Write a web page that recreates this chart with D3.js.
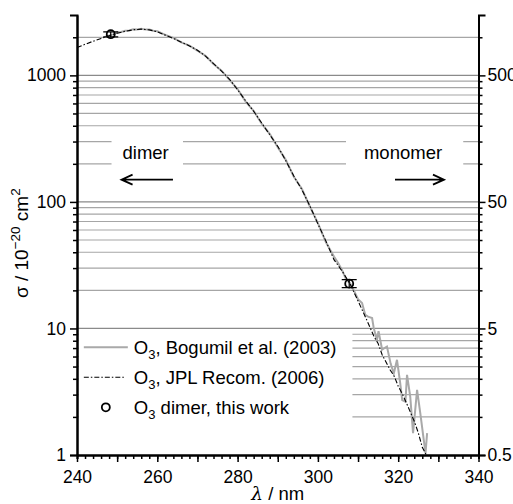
<!DOCTYPE html>
<html>
<head>
<meta charset="utf-8">
<script src="https://cdn.jsdelivr.net/npm/d3@7"></script>
<style>
  body { margin: 0; background: #fff; }
  text { font-family: "Liberation Sans", Arial, sans-serif; fill: #000; }
</style>
</head>
<body>
<script>
const width = 513
const height = 504
const margin = { top: 15, right: 35, bottom: 49, left: 77 }

// JPL recommendation (2006), wavelength in nm, sigma in 1e-20 cm2
const jplLambda = [240, 242, 244, 246, 248, 250, 252, 254, 256, 258, 260, 262, 264, 266, 268, 270,
  272, 274, 276, 278, 280, 282, 284, 286, 288, 290, 292, 294, 296, 298, 300, 302, 304, 306, 308,
  310, 312, 314, 315, 316, 318, 319, 320, 321, 322, 324, 325, 326, 327]
const jplSigma = [1660, 1760, 1860, 1960, 2060, 2150, 2230, 2290, 2320, 2290, 2210, 2080, 1960, 1830, 1710, 1580,
  1420, 1240, 1080, 930, 770, 630, 520, 420, 340, 275, 212, 160, 125, 93, 67, 49, 35, 28.5, 22.5,
  16.5, 12, 8.6, 7.6, 6.2, 4.7, 4.2, 3.5, 3.05, 2.6, 1.85, 1.5, 1.15, 1.0]

// Bogumil et al. (2003)
const bogLambda = [247, 249, 250, 251, 252, 253, 254, 255, 256, 257, 258, 259, 260, 262, 264, 266, 268, 270,
  272, 274, 276, 278, 280, 282, 284, 286, 288, 290, 292, 294, 296, 298, 300, 302, 304, 305, 306, 307, 308, 309,
  310, 311, 311.8, 312.5, 313.5, 313.9, 314.7, 315.1, 316, 317.2, 318.1, 318.9, 319.7, 320.5, 321, 321.8,
  322.2, 323, 323.7, 324.7, 325.5, 326.8, 327.2]
const bogSigma = [2020, 2110, 2180, 2200, 2250, 2260, 2310, 2300, 2340, 2300, 2300, 2250, 2230, 2090, 1980, 1820, 1720, 1570,
  1430, 1230, 1090, 920, 780, 620, 525, 415, 345, 270, 215, 158, 127, 92, 68, 48, 37, 33, 29, 24.5, 22.8, 19.8,
  17, 15.9, 12.8, 12.4, 12.1, 10.1, 8.1, 9.5, 6.8, 7.2, 5.3, 4.4, 5.65, 3.7, 2.72, 2.64,
  4.3, 2.9, 1.49, 3.27, 2.14, 1.03, 1.49]

// O3 dimer, this work
const dimerLambda = [248.4, 307.8]
const dimerSigma = [2116, 22.6]
const dimerLow = [2014, 21.0]
const dimerHigh = [2207, 24.3]

const xTicks = [240, 260, 280, 300, 320, 340]
const yTicks = [1, 10, 100, 1000]
const gridValues = [2000, 1000, 900, 800, 700, 600, 500, 400, 300, 200,
  100, 90, 80, 70, 60, 50, 40, 30, 20,
  10, 9, 8, 7, 6, 5, 4, 3, 2]

const svg = d3.select('body')
  .append('svg')
  .attr('width', width)
  .attr('height', height)

const x = d3.scaleLinear().domain([240, 340]).range([margin.left, width - margin.right + 0.5])
const y = d3.scaleLog().domain([1, 3000]).range([height - margin.bottom, margin.top])

// gridlines
svg.append('g')
  .selectAll('line')
  .data(gridValues)
  .enter()
  .append('line')
  .attr('x1', x(240))
  .attr('x2', x(340))
  .attr('y1', (d) => y(d))
  .attr('y2', (d) => y(d))
  .attr('stroke', (d) => yTicks.includes(d) ? '#8a8a8a' : '#a6a6a6')
  .attr('stroke-width', 1.2)

// white boxes behind the annotations and legend
const blank = (x1, x2, y1, y2) => svg.append('rect')
  .attr('x', x(x1)).attr('width', x(x2) - x(x1))
  .attr('y', y(y1)).attr('height', y(y2) - y(y1))
  .attr('fill', '#fff')
blank(248.6, 266.4, 360, 180)
blank(307.0, 336.2, 360, 180)
blank(240.4, 308.6, 9.6, 1.02)

// dimer / monomer annotations
const note = (label, cx, a1, a2) => {
  svg.append('text')
    .attr('x', x(cx)).attr('y', y(218))
    .attr('text-anchor', 'middle')
    .style('font-size', '18.5px')
    .text(label)
  const ay = y(150)
  const dir = a2 > a1 ? -1 : 1
  svg.append('path')
    .attr('d', `M${x(a1)},${ay}L${x(a2)},${ay}M${x(a2) + dir * 11},${ay - 5}L${x(a2)},${ay}L${x(a2) + dir * 11},${ay + 5}`)
    .attr('fill', 'none')
    .attr('stroke', '#000')
    .attr('stroke-width', 1.8)
}
note('dimer', 257.1, 263.9, 251.1)
note('monomer', 321.2, 319.2, 331.4)

// curves
const line = d3.line()
  .x((d) => x(d[0]))
  .y((d) => y(d[1]))

svg.append('path')
  .datum(bogLambda.map((l, i) => [l, bogSigma[i]]))
  .attr('d', line)
  .attr('fill', 'none')
  .attr('stroke', '#a9a9a9')
  .attr('stroke-width', 2)

svg.append('path')
  .datum(jplLambda.map((l, i) => [l, jplSigma[i]]))
  .attr('d', line)
  .attr('fill', 'none')
  .attr('stroke', '#000')
  .attr('stroke-width', 1.1)
  .attr('stroke-dasharray', '5,2,1.5,2')

// dimer points with error bars
const pts = svg.append('g')
  .selectAll('g')
  .data(dimerLambda.map((l, i) => ({ l: l, s: dimerSigma[i], lo: dimerLow[i], hi: dimerHigh[i] })))
  .enter()
  .append('g')
pts.append('path')
  .attr('d', (d) => `M${x(d.l)},${y(d.lo)}L${x(d.l)},${y(d.hi)}` +
    `M${x(d.l) - 7.5},${y(d.lo)}h15M${x(d.l) - 7.5},${y(d.hi)}h15`)
  .attr('stroke', '#000')
  .attr('stroke-width', 1.2)
pts.append('circle')
  .attr('cx', (d) => x(d.l))
  .attr('cy', (d) => y(d.s))
  .attr('r', 4)
  .attr('fill', 'none')
  .attr('stroke', '#000')
  .attr('stroke-width', 1.8)

// axes
const minorX = d3.range(240, 341, 2)
const xAxis = svg.append('g')
  .attr('transform', `translate(0, ${y(1)})`)
  .call(d3.axisBottom(x).tickValues(minorX).tickSize(4).tickFormat(''))
xAxis.append('g')
  .call(d3.axisBottom(x).tickValues(d3.range(240, 341, 10)).tickSize(7).tickSizeOuter(0)
    .tickFormat((d) => xTicks.includes(d) ? d : ''))

const leftAxis = svg.append('g')
  .attr('transform', `translate(${x(240)}, 0)`)
  .call(d3.axisLeft(y).tickValues(gridValues.filter((d) => !yTicks.includes(d)))
    .tickSize(4).tickSizeOuter(7).tickFormat(''))
leftAxis.append('g')
  .call(d3.axisLeft(y).tickValues(yTicks).tickSize(7).tickSizeOuter(0).tickFormat((d) => d))

const rightAxis = svg.append('g')
  .attr('transform', `translate(${x(340)}, 0)`)
  .call(d3.axisRight(y).tickValues(gridValues.filter((d) => !yTicks.includes(d)))
    .tickSize(4).tickSizeOuter(7).tickFormat(''))
rightAxis.append('g')
  .call(d3.axisRight(y).tickValues(yTicks).tickSize(7).tickSizeOuter(0).tickFormat((d) => d / 2))

svg.selectAll('.domain').attr('stroke-width', 2)
svg.selectAll('.tick line').attr('stroke-width', 1.5)
svg.selectAll('.tick text')
  .style('font-size', '17.5px')
  .style('font-family', '"Liberation Sans", Arial, sans-serif')
  .attr('fill', '#000')
xAxis.selectAll('.tick text').attr('dy', '1.0em')
leftAxis.selectAll('.tick text').attr('x', -11)
rightAxis.selectAll('.tick text').attr('x', 9)

// axis titles
svg.append('text')
  .attr('x', x(290))
  .attr('y', height - 4)
  .attr('text-anchor', 'middle')
  .style('font-size', '18.5px')
  .call((t) => {
    t.append('tspan').style('font-style', 'italic').style('font-family', '"DejaVu Serif", serif').text('λ')
    t.append('tspan').text(' / nm')
  })

svg.append('text')
  .attr('transform', `translate(28, ${y(Math.sqrt(10 * 100)) - 22}) rotate(-90)`)
  .attr('text-anchor', 'middle')
  .style('font-size', '19px')
  .call((t) => {
    t.append('tspan').text('σ / 10')
    t.append('tspan').attr('dy', -8).style('font-size', '13.5px').text('−20')
    t.append('tspan').attr('dy', 8).text(' cm')
    t.append('tspan').attr('dy', -8).style('font-size', '13.5px').text('2')
  })

// legend
const legendRows = [
  { label: ', Bogumil et al. (2003)', type: 'bog' },
  { label: ', JPL Recom. (2006)', type: 'jpl' },
  { label: ' dimer, this work', type: 'dimer' }
]
const legend = svg.append('g').attr('transform', `translate(${x(241.7)}, ${y(7.1)})`)
legendRows.forEach((r, i) => {
  const g = legend.append('g').attr('transform', `translate(0, ${i * 30})`)
  if (r.type === 'bog') {
    g.append('line').attr('x1', 0).attr('x2', 44).attr('stroke', '#a9a9a9').attr('stroke-width', 2)
  } else if (r.type === 'jpl') {
    g.append('line').attr('x1', 0).attr('x2', 42).attr('stroke', '#000').attr('stroke-width', 1.1)
      .attr('stroke-dasharray', '5,2,1.5,2')
  } else {
    g.append('circle').attr('cx', 22).attr('r', 4).attr('fill', 'none')
      .attr('stroke', '#000').attr('stroke-width', 1.8)
  }
  const t = g.append('text').attr('x', 50).attr('y', 6.5).style('font-size', '18.5px')
  t.append('tspan').text('O')
  t.append('tspan').attr('dy', 5).style('font-size', '13px').text('3')
  t.append('tspan').attr('dy', -5).text(r.label)
})
</script>
</body>
</html>
